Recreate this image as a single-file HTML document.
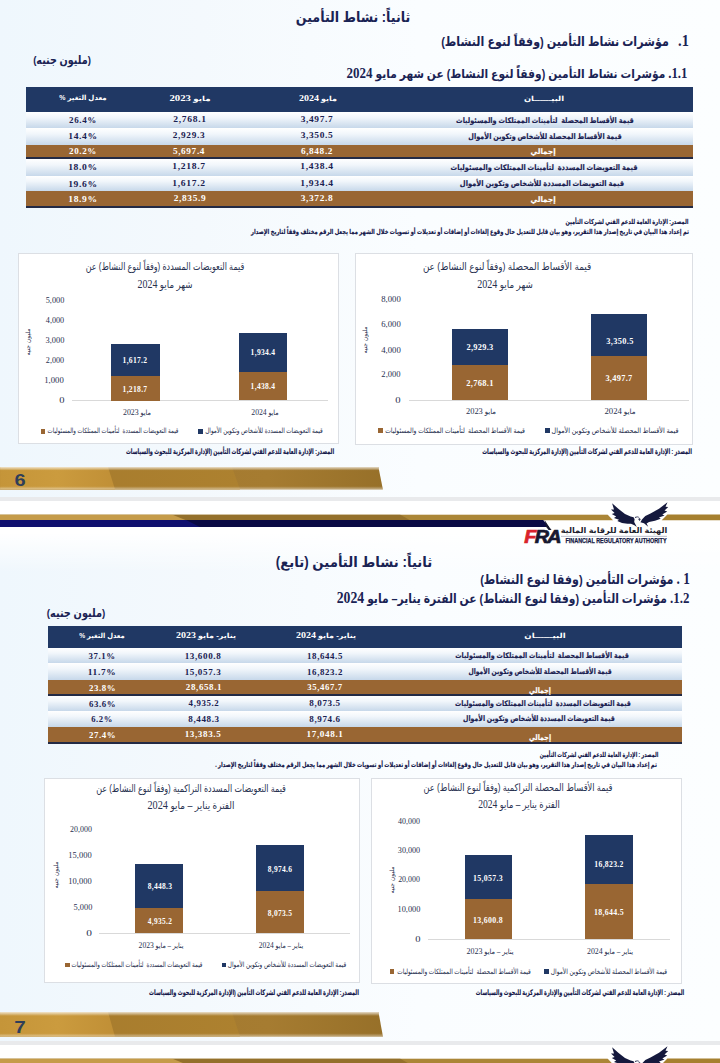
<!DOCTYPE html><html lang="ar"><head><meta charset="utf-8"><title>نشاط التأمين</title><style>
html,body{margin:0;padding:0;width:720px;height:1063px;overflow:hidden;background:#fafdff}
.pg{width:720px;height:1063px;position:relative;overflow:hidden;
 background:linear-gradient(90deg,#eff7fd 0%,#f4f9fd 28%,#fafdff 58%,#fcfeff 100%);
 font-family:"Liberation Sans","DejaVu Sans",sans-serif}
.r{position:absolute;display:block}
.t{position:absolute;white-space:nowrap;line-height:1;color:#1a2354;direction:rtl;unicode-bidi:isolate}
.sb{font-family:"Liberation Sans","DejaVu Sans",sans-serif;font-weight:bold}
.sr{font-family:"Liberation Sans","DejaVu Sans",sans-serif;font-weight:normal}
.lb{font-family:"Liberation Sans","DejaVu Sans",sans-serif;font-weight:bold;direction:ltr}
.nb{font-family:"Liberation Serif","DejaVu Serif",serif;font-weight:bold;direction:ltr}
.nr{font-family:"Liberation Serif","DejaVu Serif",serif;font-weight:normal;direction:ltr}
.n{font-family:"Liberation Serif","DejaVu Serif",serif}
</style></head><body><div class="pg">
<div class="r" style="left:26.00px;top:87.00px;width:667.00px;height:24.70px;background:#203864;"></div>
<div class="r" style="left:26.00px;top:111.70px;width:667.00px;height:16.30px;background:linear-gradient(#ffffff 0%,#f1f6fb 35%,#c7d8ea 100%);"></div>
<div class="r" style="left:26.00px;top:128.00px;width:667.00px;height:16.60px;background:linear-gradient(#ffffff 0%,#f1f6fb 35%,#c7d8ea 100%);"></div>
<div class="r" style="left:26.00px;top:144.60px;width:667.00px;height:12.40px;background:#996633;"></div>
<div class="r" style="left:26.00px;top:156.70px;width:667.00px;height:2.40px;background:#232a45;"></div>
<div class="r" style="left:26.00px;top:158.80px;width:667.00px;height:16.90px;background:linear-gradient(#ffffff 0%,#f1f6fb 35%,#c7d8ea 100%);"></div>
<div class="r" style="left:26.00px;top:175.70px;width:667.00px;height:15.70px;background:linear-gradient(#ffffff 0%,#f1f6fb 35%,#c7d8ea 100%);"></div>
<div class="r" style="left:26.00px;top:191.40px;width:667.00px;height:15.20px;background:#996633;"></div>
<div class="r" style="left:26.00px;top:206.30px;width:667.00px;height:1.90px;background:#232a45;"></div>
<div class="r" style="left:48.00px;top:625.75px;width:634.00px;height:21.85px;background:#203864;"></div>
<div class="r" style="left:48.00px;top:647.60px;width:634.00px;height:15.40px;background:linear-gradient(#ffffff 0%,#f1f6fb 35%,#c7d8ea 100%);"></div>
<div class="r" style="left:48.00px;top:663.00px;width:634.00px;height:16.70px;background:linear-gradient(#ffffff 0%,#f1f6fb 35%,#c7d8ea 100%);"></div>
<div class="r" style="left:48.00px;top:679.70px;width:634.00px;height:14.50px;background:#996633;"></div>
<div class="r" style="left:48.00px;top:693.90px;width:634.00px;height:2.40px;background:#232a45;"></div>
<div class="r" style="left:48.00px;top:696.00px;width:634.00px;height:14.80px;background:linear-gradient(#ffffff 0%,#f1f6fb 35%,#c7d8ea 100%);"></div>
<div class="r" style="left:48.00px;top:710.80px;width:634.00px;height:16.20px;background:linear-gradient(#ffffff 0%,#f1f6fb 35%,#c7d8ea 100%);"></div>
<div class="r" style="left:48.00px;top:727.00px;width:634.00px;height:14.80px;background:#996633;"></div>
<div class="r" style="left:48.00px;top:741.50px;width:634.00px;height:2.10px;background:#232a45;"></div>
<div class="r" style="left:18.30px;top:253.30px;width:320.70px;height:191.20px;background:#fff;border:1px solid #dcdfe4;box-sizing:border-box"></div>
<div class="t sr" dir="rtl" style="left:27.80px;top:342.00px;font-size:6.1px;color:#283150;transform:translate(-50%,-50%) rotate(-90deg) scaleX(1.000)">مليون جنيه</div>
<div class="r" style="left:72.00px;top:400.10px;width:256.00px;height:0.90px;background:#d9d9d9;"></div>
<div class="r" style="left:110.80px;top:343.50px;width:48.90px;height:32.51px;background:#203864;"></div>
<div class="r" style="left:110.80px;top:376.00px;width:48.90px;height:24.50px;background:#996633;"></div>
<div class="r" style="left:239.20px;top:332.71px;width:48.30px;height:38.88px;background:#203864;"></div>
<div class="r" style="left:239.20px;top:371.59px;width:48.30px;height:28.91px;background:#996633;"></div>
<div class="r" style="left:40.80px;top:429.00px;width:4.50px;height:4.60px;background:#996633;"></div>
<div class="r" style="left:198.00px;top:429.00px;width:4.80px;height:4.60px;background:#203864;"></div>
<div class="r" style="left:355.30px;top:253.30px;width:338.10px;height:191.70px;background:#fff;border:1px solid #dcdfe4;box-sizing:border-box"></div>
<div class="t sr" dir="rtl" style="left:364.60px;top:340.00px;font-size:6.1px;color:#283150;transform:translate(-50%,-50%) rotate(-90deg) scaleX(1.000)">مليون جنيه</div>
<div class="r" style="left:409.00px;top:399.90px;width:280.00px;height:0.90px;background:#d9d9d9;"></div>
<div class="r" style="left:452.00px;top:328.51px;width:55.60px;height:36.91px;background:#203864;"></div>
<div class="r" style="left:452.00px;top:365.42px;width:55.60px;height:34.88px;background:#996633;"></div>
<div class="r" style="left:591.40px;top:314.01px;width:56.10px;height:42.22px;background:#203864;"></div>
<div class="r" style="left:591.40px;top:356.23px;width:56.10px;height:44.07px;background:#996633;"></div>
<div class="r" style="left:377.50px;top:428.30px;width:5.50px;height:4.70px;background:#996633;"></div>
<div class="r" style="left:545.00px;top:428.30px;width:5.00px;height:4.70px;background:#203864;"></div>
<div class="r" style="left:44.40px;top:777.50px;width:316.10px;height:205.70px;background:#fff;border:1px solid #dcdfe4;box-sizing:border-box"></div>
<div class="t sr" dir="rtl" style="left:56.00px;top:875.00px;font-size:6.1px;color:#283150;transform:translate(-50%,-50%) rotate(-90deg) scaleX(1.000)">مليون جنيه</div>
<div class="r" style="left:99.00px;top:932.60px;width:251.00px;height:0.90px;background:#d9d9d9;"></div>
<div class="r" style="left:135.30px;top:863.94px;width:48.00px;height:43.59px;background:#203864;"></div>
<div class="r" style="left:135.30px;top:907.53px;width:48.00px;height:25.47px;background:#996633;"></div>
<div class="r" style="left:256.40px;top:845.03px;width:47.80px;height:46.31px;background:#203864;"></div>
<div class="r" style="left:256.40px;top:891.34px;width:47.80px;height:41.66px;background:#996633;"></div>
<div class="r" style="left:65.30px;top:962.80px;width:4.30px;height:4.70px;background:#996633;"></div>
<div class="r" style="left:221.70px;top:962.80px;width:4.70px;height:4.70px;background:#203864;"></div>
<div class="r" style="left:371.00px;top:777.50px;width:310.70px;height:206.70px;background:#fff;border:1px solid #dcdfe4;box-sizing:border-box"></div>
<div class="t sr" dir="rtl" style="left:392.00px;top:880.00px;font-size:6.1px;color:#283150;transform:translate(-50%,-50%) rotate(-90deg) scaleX(1.000)">مليون جنيه</div>
<div class="r" style="left:428.00px;top:938.50px;width:242.00px;height:0.90px;background:#d9d9d9;"></div>
<div class="r" style="left:464.50px;top:854.65px;width:47.70px;height:44.27px;background:#203864;"></div>
<div class="r" style="left:464.50px;top:898.91px;width:47.70px;height:39.99px;background:#996633;"></div>
<div class="r" style="left:585.30px;top:834.62px;width:47.70px;height:49.46px;background:#203864;"></div>
<div class="r" style="left:585.30px;top:884.09px;width:47.70px;height:54.81px;background:#996633;"></div>
<div class="r" style="left:389.70px;top:969.00px;width:4.50px;height:4.60px;background:#996633;"></div>
<div class="r" style="left:544.40px;top:969.00px;width:4.80px;height:4.60px;background:#203864;"></div>
<svg class="r" style="left:0;top:467.30px" width="390" height="22.40" viewBox="0 0 390 22.40">
<defs>
<linearGradient id="fa6" x1="0" x2="1" y1="0" y2="0"><stop offset="0" stop-color="#c59539"/><stop offset="0.5" stop-color="#cb9b3e"/><stop offset="1" stop-color="#c08f36"/></linearGradient>
<linearGradient id="fb6" x1="0" x2="1" y1="0" y2="0"><stop offset="0" stop-color="#a57a2d"/><stop offset="1" stop-color="#ad812f"/></linearGradient>
<linearGradient id="fc6" x1="0" x2="1" y1="0" y2="0"><stop offset="0" stop-color="#a0762c"/><stop offset="0.7" stop-color="#a67c31"/><stop offset="1" stop-color="#977029"/></linearGradient>
<linearGradient id="fv6" x1="0" x2="0" y1="0" y2="1"><stop offset="0" stop-color="#fff" stop-opacity="0.75"/><stop offset="0.16" stop-color="#fff" stop-opacity="0"/><stop offset="0.86" stop-color="#fff" stop-opacity="0"/><stop offset="1" stop-color="#fff" stop-opacity="0.45"/></linearGradient>
</defs>
<polygon points="0,0 378.5,0 383,22.40 0,22.40" fill="url(#fc6)"/>
<polygon points="0,0 232,0 240,22.40 0,22.40" fill="url(#fb6)"/>
<polygon points="0,0 108,0 115,22.40 0,22.40" fill="url(#fa6)"/>
<polygon points="0,0 378.5,0 383,22.40 0,22.40" fill="url(#fv6)"/>
</svg>
<svg class="r" style="left:0;top:1012.40px" width="390" height="24.80" viewBox="0 0 390 24.80">
<defs>
<linearGradient id="fa7" x1="0" x2="1" y1="0" y2="0"><stop offset="0" stop-color="#c59539"/><stop offset="0.5" stop-color="#cb9b3e"/><stop offset="1" stop-color="#c08f36"/></linearGradient>
<linearGradient id="fb7" x1="0" x2="1" y1="0" y2="0"><stop offset="0" stop-color="#a57a2d"/><stop offset="1" stop-color="#ad812f"/></linearGradient>
<linearGradient id="fc7" x1="0" x2="1" y1="0" y2="0"><stop offset="0" stop-color="#a0762c"/><stop offset="0.7" stop-color="#a67c31"/><stop offset="1" stop-color="#977029"/></linearGradient>
<linearGradient id="fv7" x1="0" x2="0" y1="0" y2="1"><stop offset="0" stop-color="#fff" stop-opacity="0.75"/><stop offset="0.16" stop-color="#fff" stop-opacity="0"/><stop offset="0.86" stop-color="#fff" stop-opacity="0"/><stop offset="1" stop-color="#fff" stop-opacity="0.45"/></linearGradient>
</defs>
<polygon points="0,0 378.5,0 383,24.80 0,24.80" fill="url(#fc7)"/>
<polygon points="0,0 232,0 240,24.80 0,24.80" fill="url(#fb7)"/>
<polygon points="0,0 108,0 115,24.80 0,24.80" fill="url(#fa7)"/>
<polygon points="0,0 378.5,0 383,24.80 0,24.80" fill="url(#fv7)"/>
</svg>
<div class="r" style="left:0.00px;top:497.30px;width:720.00px;height:3.40px;background:#e9eaec;"></div>
<div class="r" style="left:0.00px;top:500.70px;width:720.00px;height:71.60px;background:linear-gradient(#ffffff 0%,#ffffff 45%,rgba(255,255,255,0) 100%);"></div>
<svg class="r" style="left:0;top:497.30px" width="720" height="50" viewBox="0 497.3 720 50">
<polygon points="0,514.8 607.5,514.8 613,520.6 0,520.6" fill="#ab8637"/>
<polygon points="0,514.8 400,514.8 410,520.6 0,520.6" fill="#94702b"/>
<polygon points="0,514.8 172,514.8 186,520.6 0,520.6" fill="#c59b49"/>
<rect x="0" y="514.3" width="720" height="0.9" fill="#fff" opacity="0.45"/>
<polygon points="667.4,514.8 720,514.8 720,520.6 661.7,520.6" fill="#a6802f"/>
<polygon points="0,520.4 543.2,520.4 549,527.3 0,527.3" fill="#0a0a44"/>
<polygon points="0,520.4 186,520.4 200,527.3 0,527.3" fill="#10106f"/>
<!-- eagle -->
<g fill="#15193d">
<path d="M612.1,503.5 L618.6,509.3 L625,514.4 L630.6,516.8 L633.6,517.6 L634.6,519.6 L634.2,522.4 L636.8,527.2 L634.4,525.6 L631,524 L627.5,524 L622,523.4 L617.3,521.2 L619,520 L614,518.2 L616.2,516.8 L611.8,514.4 L614.6,513.4 L611,509.9 L614,509.8 Z"/>
<path d="M667.5,502.5 L659,509 L650.5,513.8 L645.3,516.3 L642.2,519.6 L640.4,522.6 L644,523.6 L648.2,527 L646.6,523.7 L649,522.2 L655,521 L660.7,519 L659,517.7 L664.5,515.8 L662.3,514.7 L667.2,511.7 L664.5,510.9 L668.2,507.3 L665.5,507.1 Z"/>
<path d="M634.8,517.4 C636.4,516.5 638.4,516.6 639.6,517.6 L638.2,517.8 C637.2,517.5 636.2,517.6 635.4,518.2 Z M639,518.3 L641.4,519.8 L639.6,519.9 L640.3,521.4 L638.4,520 Z"/>
</g>
<!-- stripe end wedge joining the logo -->
<polygon points="544.6,520.4 549.2,527.3 551.6,530.4 548.6,530.4 546.2,527.3" fill="#17182f"/>
<rect x="561" y="536.2" width="106" height="0.6" fill="#8a8fa8"/>
</svg>
<div class="r" style="left:0.00px;top:1041.30px;width:720.00px;height:3.40px;background:#e9eaec;"></div>
<div class="r" style="left:0.00px;top:1044.70px;width:720.00px;height:71.60px;background:linear-gradient(#ffffff 0%,#ffffff 45%,rgba(255,255,255,0) 100%);"></div>
<svg class="r" style="left:0;top:1041.30px" width="720" height="50" viewBox="0 497.3 720 50">
<polygon points="0,514.8 607.5,514.8 613,520.6 0,520.6" fill="#ab8637"/>
<polygon points="0,514.8 400,514.8 410,520.6 0,520.6" fill="#94702b"/>
<polygon points="0,514.8 172,514.8 186,520.6 0,520.6" fill="#c59b49"/>
<rect x="0" y="514.3" width="720" height="0.9" fill="#fff" opacity="0.45"/>
<polygon points="667.4,514.8 720,514.8 720,520.6 661.7,520.6" fill="#a6802f"/>
<polygon points="0,520.4 543.2,520.4 549,527.3 0,527.3" fill="#0a0a44"/>
<polygon points="0,520.4 186,520.4 200,527.3 0,527.3" fill="#10106f"/>
<!-- eagle -->
<g fill="#15193d">
<path d="M612.1,503.5 L618.6,509.3 L625,514.4 L630.6,516.8 L633.6,517.6 L634.6,519.6 L634.2,522.4 L636.8,527.2 L634.4,525.6 L631,524 L627.5,524 L622,523.4 L617.3,521.2 L619,520 L614,518.2 L616.2,516.8 L611.8,514.4 L614.6,513.4 L611,509.9 L614,509.8 Z"/>
<path d="M667.5,502.5 L659,509 L650.5,513.8 L645.3,516.3 L642.2,519.6 L640.4,522.6 L644,523.6 L648.2,527 L646.6,523.7 L649,522.2 L655,521 L660.7,519 L659,517.7 L664.5,515.8 L662.3,514.7 L667.2,511.7 L664.5,510.9 L668.2,507.3 L665.5,507.1 Z"/>
<path d="M634.8,517.4 C636.4,516.5 638.4,516.6 639.6,517.6 L638.2,517.8 C637.2,517.5 636.2,517.6 635.4,518.2 Z M639,518.3 L641.4,519.8 L639.6,519.9 L640.3,521.4 L638.4,520 Z"/>
</g>
<!-- stripe end wedge joining the logo -->
<polygon points="544.6,520.4 549.2,527.3 551.6,530.4 548.6,530.4 546.2,527.3" fill="#17182f"/>
<rect x="561" y="536.2" width="106" height="0.6" fill="#8a8fa8"/>
</svg>
<div class="t sb" style="left:353.02px;top:17.14px;font-size:14.00px;transform:translate(-50%,-50%) scaleX(0.9053)">ثانياً: نشاط التأمين</div>
<div class="t sb" style="left:565.15px;top:40.50px;font-size:13.20px;transform:translate(-50%,-50%) scaleX(0.8415)"><span class="n"><b style="font-size:1.3em">1.</b></span>&nbsp;&nbsp; مؤشرات نشاط التأمين (وفقاً لنوع النشاط)</div>
<div class="t sb" style="left:62.10px;top:60.90px;font-size:11.50px;transform:translate(-50%,-50%) scaleX(0.8357)">(مليون جنيه)</div>
<div class="t sb" style="left:516.53px;top:73.17px;font-size:12.00px;transform:translate(-50%,-50%) scaleX(0.8879)"><span class="n"><b style="font-size:1.2em">1.1.</b></span> مؤشرات نشاط التأمين (وفقاً لنوع النشاط) عن شهر مايو <span class="n"><b style="font-size:1.22em;letter-spacing:0.5px">2024</b></span></div>
<div class="t sb" style="left:82.74px;top:97.35px;font-size:7.00px;color:#ffffff;transform:translate(-50%,-50%) scaleX(0.9942)">معدل التغير %</div>
<div class="t sb" style="left:190.00px;top:98.35px;font-size:7.00px;color:#ffffff;transform:translate(-50%,-50%) scaleX(1.2308)">مايو <span class="n"><span style="font-size:1.25em">2023</span></span></div>
<div class="t sb" style="left:317.63px;top:98.20px;font-size:7.00px;color:#ffffff;transform:translate(-50%,-50%) scaleX(1.1394)">مايو <span class="n"><span style="font-size:1.25em">2024</span></span></div>
<div class="t sb" style="left:544.12px;top:98.35px;font-size:7.00px;color:#ffffff;transform:translate(-50%,-50%) scaleX(1.1906)">البيــــــان</div>
<div class="t nb" style="left:82.81px;top:120.20px;font-size:8.80px;color:#1a2050;letter-spacing:0.6px;transform:translate(-50%,-50%) scaleX(1.0235)">26.4%</div>
<div class="t nb" style="left:190.26px;top:118.70px;font-size:8.80px;color:#1a2050;letter-spacing:0.6px;transform:translate(-50%,-50%) scaleX(1.0880)">2,768.1</div>
<div class="t nb" style="left:317.42px;top:118.94px;font-size:8.80px;color:#1a2050;letter-spacing:0.6px;transform:translate(-50%,-50%) scaleX(1.0638)">3,497.7</div>
<div class="t sb" style="left:544.61px;top:120.97px;font-size:7.70px;color:#1a2050;-webkit-text-stroke:0.15px currentColor;transform:translate(-50%,-50%) scaleX(0.8460)">قيمة الأقساط المحصلة &nbsp;لتأمينات الممتلكات والمسئوليات</div>
<div class="t nb" style="left:82.53px;top:135.87px;font-size:8.80px;color:#1a2050;letter-spacing:0.6px;transform:translate(-50%,-50%) scaleX(1.0883)">14.4%</div>
<div class="t nb" style="left:189.38px;top:134.89px;font-size:8.80px;color:#1a2050;letter-spacing:0.6px;transform:translate(-50%,-50%) scaleX(1.0570)">2,929.3</div>
<div class="t nb" style="left:317.43px;top:135.47px;font-size:8.80px;color:#1a2050;letter-spacing:0.6px;transform:translate(-50%,-50%) scaleX(1.0704)">3,350.5</div>
<div class="t sb" style="left:545.25px;top:136.78px;font-size:7.70px;color:#1a2050;-webkit-text-stroke:0.15px currentColor;transform:translate(-50%,-50%) scaleX(0.8449)">قيمة الأقساط المحصلة للأشخاص وتكوين الأموال</div>
<div class="t nb" style="left:82.69px;top:150.80px;font-size:8.80px;color:#ffffff;letter-spacing:0.6px;transform:translate(-50%,-50%) scaleX(1.0245)">20.2%</div>
<div class="t nb" style="left:189.46px;top:150.95px;font-size:8.80px;color:#ffffff;letter-spacing:0.6px;transform:translate(-50%,-50%) scaleX(1.0508)">5,697.4</div>
<div class="t nb" style="left:317.46px;top:151.07px;font-size:8.80px;color:#ffffff;letter-spacing:0.6px;transform:translate(-50%,-50%) scaleX(1.0508)">6,848.2</div>
<div class="t sb" style="left:543.22px;top:151.60px;font-size:7.70px;color:#ffffff;-webkit-text-stroke:0.15px currentColor;transform:translate(-50%,-50%) scaleX(0.9380)">إجمالي</div>
<div class="t nb" style="left:82.76px;top:166.74px;font-size:8.80px;color:#1a2050;letter-spacing:0.6px;transform:translate(-50%,-50%) scaleX(1.0899)">18.0%</div>
<div class="t nb" style="left:188.84px;top:166.16px;font-size:8.80px;color:#1a2050;letter-spacing:0.6px;transform:translate(-50%,-50%) scaleX(1.0902)">1,218.7</div>
<div class="t nb" style="left:316.93px;top:166.39px;font-size:8.80px;color:#1a2050;letter-spacing:0.6px;transform:translate(-50%,-50%) scaleX(1.0895)">1,438.4</div>
<div class="t sb" style="left:544.13px;top:168.11px;font-size:7.70px;color:#1a2050;-webkit-text-stroke:0.15px currentColor;transform:translate(-50%,-50%) scaleX(0.8629)">قيمة التعويضات المسددة &nbsp;لتأمينات الممتلكات والمسئوليات</div>
<div class="t nb" style="left:82.76px;top:183.52px;font-size:8.80px;color:#1a2050;letter-spacing:0.6px;transform:translate(-50%,-50%) scaleX(1.0899)">19.6%</div>
<div class="t nb" style="left:189.05px;top:183.23px;font-size:8.80px;color:#1a2050;letter-spacing:0.6px;transform:translate(-50%,-50%) scaleX(1.0916)">1,617.2</div>
<div class="t nb" style="left:316.93px;top:183.27px;font-size:8.80px;color:#1a2050;letter-spacing:0.6px;transform:translate(-50%,-50%) scaleX(1.0895)">1,934.4</div>
<div class="t sb" style="left:541.75px;top:184.15px;font-size:7.70px;color:#1a2050;-webkit-text-stroke:0.15px currentColor;transform:translate(-50%,-50%) scaleX(0.8743)">قيمة التعويضات المسددة للأشخاص وتكوين الأموال</div>
<div class="t nb" style="left:82.53px;top:198.50px;font-size:8.80px;color:#ffffff;letter-spacing:0.6px;transform:translate(-50%,-50%) scaleX(1.0883)">18.9%</div>
<div class="t nb" style="left:189.96px;top:198.15px;font-size:8.80px;color:#ffffff;letter-spacing:0.6px;transform:translate(-50%,-50%) scaleX(1.0651)">2,835.9</div>
<div class="t nb" style="left:317.20px;top:198.30px;font-size:8.80px;color:#ffffff;letter-spacing:0.6px;transform:translate(-50%,-50%) scaleX(1.0665)">3,372.8</div>
<div class="t sb" style="left:543.22px;top:199.72px;font-size:7.70px;color:#ffffff;-webkit-text-stroke:0.15px currentColor;transform:translate(-50%,-50%) scaleX(0.9380)">إجمالي</div>
<div class="t sb" style="left:627.23px;top:222.38px;font-size:6.90px;color:#14174a;-webkit-text-stroke:0.15px #14174a;transform:translate(-50%,-50%) scaleX(0.7259)">المصدر: الإدارة العامة للدعم الفني لشركات التأمين</div>
<div class="t sb" style="left:469.69px;top:231.62px;font-size:6.90px;color:#14174a;-webkit-text-stroke:0.15px #14174a;transform:translate(-50%,-50%) scaleX(0.7465)">تم إعداد هذا البيان في تاريخ إصدار هذا التقرير، وهو بيان قابل للتعديل حال وقوع إلغاءات أو إضافات أو تعديلات أو تسويات خلال الشهر مما يجعل الرقم مختلف وفقاً لتاريخ الإصدار</div>
<div class="t sb" style="left:102.30px;top:635.03px;font-size:7.00px;color:#ffffff;transform:translate(-50%,-50%) scaleX(0.9550)">معدل التغير %</div>
<div class="t sb" style="left:205.62px;top:634.99px;font-size:7.00px;color:#ffffff;transform:translate(-50%,-50%) scaleX(1.1332)">يناير- مايو <span class="n"><span style="font-size:1.25em">2023</span></span></div>
<div class="t sb" style="left:325.62px;top:635.16px;font-size:7.00px;color:#ffffff;transform:translate(-50%,-50%) scaleX(1.1332)">يناير- مايو <span class="n"><span style="font-size:1.25em">2024</span></span></div>
<div class="t sb" style="left:545.11px;top:634.99px;font-size:7.00px;color:#ffffff;transform:translate(-50%,-50%) scaleX(1.2243)">البيــــــان</div>
<div class="t nb" style="left:102.21px;top:656.18px;font-size:8.80px;color:#1a2050;letter-spacing:0.6px;transform:translate(-50%,-50%) scaleX(0.9998)">37.1%</div>
<div class="t nb" style="left:202.85px;top:656.11px;font-size:8.80px;color:#1a2050;letter-spacing:0.6px;transform:translate(-50%,-50%) scaleX(1.0317)">13,600.8</div>
<div class="t nb" style="left:324.80px;top:656.17px;font-size:8.80px;color:#1a2050;letter-spacing:0.6px;transform:translate(-50%,-50%) scaleX(1.0088)">18,644.5</div>
<div class="t sb" style="left:542.21px;top:656.38px;font-size:7.70px;color:#1a2050;-webkit-text-stroke:0.15px currentColor;transform:translate(-50%,-50%) scaleX(0.8266)">قيمة الأقساط المحصلة &nbsp;لتأمينات الممتلكات والمسئوليات</div>
<div class="t nb" style="left:102.48px;top:672.34px;font-size:8.80px;color:#1a2050;letter-spacing:0.6px;transform:translate(-50%,-50%) scaleX(1.0673)">11.7%</div>
<div class="t nb" style="left:202.84px;top:671.95px;font-size:8.80px;color:#1a2050;letter-spacing:0.6px;transform:translate(-50%,-50%) scaleX(1.0309)">15,057.3</div>
<div class="t nb" style="left:324.80px;top:672.08px;font-size:8.80px;color:#1a2050;letter-spacing:0.6px;transform:translate(-50%,-50%) scaleX(1.0088)">16,823.2</div>
<div class="t sb" style="left:540.25px;top:671.83px;font-size:7.70px;color:#1a2050;-webkit-text-stroke:0.15px currentColor;transform:translate(-50%,-50%) scaleX(0.7895)">قيمة الأقساط المحصلة للأشخاص وتكوين الأموال</div>
<div class="t nb" style="left:102.50px;top:688.00px;font-size:8.80px;color:#ffffff;letter-spacing:0.6px;transform:translate(-50%,-50%) scaleX(1.0000)">23.8%</div>
<div class="t nb" style="left:204.11px;top:686.93px;font-size:8.80px;color:#ffffff;letter-spacing:0.6px;transform:translate(-50%,-50%) scaleX(1.0214)">28,658.1</div>
<div class="t nb" style="left:325.05px;top:687.44px;font-size:8.80px;color:#ffffff;letter-spacing:0.6px;transform:translate(-50%,-50%) scaleX(0.9967)">35,467.7</div>
<div class="t sb" style="left:539.93px;top:691.34px;font-size:7.70px;color:#ffffff;-webkit-text-stroke:0.15px currentColor;transform:translate(-50%,-50%) scaleX(0.8215)">إجمالي</div>
<div class="t nb" style="left:102.50px;top:703.80px;font-size:8.80px;color:#1a2050;letter-spacing:0.6px;transform:translate(-50%,-50%) scaleX(1.0000)">63.6%</div>
<div class="t nb" style="left:203.73px;top:702.70px;font-size:8.80px;color:#1a2050;letter-spacing:0.6px;transform:translate(-50%,-50%) scaleX(1.0066)">4,935.2</div>
<div class="t nb" style="left:324.98px;top:702.82px;font-size:8.80px;color:#1a2050;letter-spacing:0.6px;transform:translate(-50%,-50%) scaleX(1.0309)">8,073.5</div>
<div class="t sb" style="left:542.60px;top:704.12px;font-size:7.70px;color:#1a2050;-webkit-text-stroke:0.15px currentColor;transform:translate(-50%,-50%) scaleX(0.8111)">قيمة التعويضات المسددة &nbsp;لتأمينات الممتلكات والمسئوليات</div>
<div class="t nb" style="left:102.38px;top:718.96px;font-size:8.80px;color:#1a2050;letter-spacing:0.6px;transform:translate(-50%,-50%) scaleX(0.9784)">6.2%</div>
<div class="t nb" style="left:203.84px;top:718.71px;font-size:8.80px;color:#1a2050;letter-spacing:0.6px;transform:translate(-50%,-50%) scaleX(1.0272)">8,448.3</div>
<div class="t nb" style="left:324.95px;top:718.62px;font-size:8.80px;color:#1a2050;letter-spacing:0.6px;transform:translate(-50%,-50%) scaleX(1.0285)">8,974.6</div>
<div class="t sb" style="left:539.07px;top:718.81px;font-size:7.70px;color:#1a2050;-webkit-text-stroke:0.15px currentColor;transform:translate(-50%,-50%) scaleX(0.8071)">قيمة التعويضات المسددة للأشخاص وتكوين الأموال</div>
<div class="t nb" style="left:102.50px;top:735.10px;font-size:8.80px;color:#ffffff;letter-spacing:0.6px;transform:translate(-50%,-50%) scaleX(1.0000)">27.4%</div>
<div class="t nb" style="left:202.98px;top:733.70px;font-size:8.80px;color:#ffffff;letter-spacing:0.6px;transform:translate(-50%,-50%) scaleX(1.0318)">13,383.5</div>
<div class="t nb" style="left:324.66px;top:734.37px;font-size:8.80px;color:#ffffff;letter-spacing:0.6px;transform:translate(-50%,-50%) scaleX(1.0401)">17,048.1</div>
<div class="t sb" style="left:539.70px;top:738.05px;font-size:7.70px;color:#ffffff;-webkit-text-stroke:0.15px currentColor;transform:translate(-50%,-50%) scaleX(0.8231)">إجمالي</div>
<div class="t sb" style="left:598.90px;top:755.47px;font-size:6.90px;color:#14174a;-webkit-text-stroke:0.15px #14174a;transform:translate(-50%,-50%) scaleX(0.6916)">المصدر : الإدارة العامة للدعم الفني لشركات التأمين</div>
<div class="t sb" style="left:436.20px;top:764.64px;font-size:6.90px;color:#14174a;-webkit-text-stroke:0.15px #14174a;transform:translate(-50%,-50%) scaleX(0.7482)">تم إعداد هذا البيان في تاريخ إصدار هذا التقرير، وهو بيان قابل للتعديل حال وقوع إلغاءات أو إضافات أو تعديلات أو تسويات خلال الشهر مما يجعل الرقم مختلف وفقاً لتاريخ الإصدار .</div>
<div class="t sb" style="left:353.56px;top:561.94px;font-size:14.00px;transform:translate(-50%,-50%) scaleX(0.9483)">ثانياً: نشاط التأمين (تابع)</div>
<div class="t sb" style="left:585.08px;top:578.86px;font-size:13.40px;transform:translate(-50%,-50%) scaleX(0.8283)"><span class="n"><b style="font-size:1.2em">1 .</b></span> مؤشرات التأمين (وفقا لنوع النشاط)</div>
<div class="t sb" style="left:513.36px;top:597.64px;font-size:13.00px;transform:translate(-50%,-50%) scaleX(0.8270)"><span class="n"><b style="font-size:1.2em">1.2.</b></span> مؤشرات التأمين (وفقا لنوع النشاط) عن الفترة يناير– مايو <span class="n"><b style="font-size:1.28em;letter-spacing:1.4px">2024</b></span></div>
<div class="t sb" style="left:76.32px;top:613.72px;font-size:11.50px;transform:translate(-50%,-50%) scaleX(0.8466)">(مليون جنيه)</div>
<div class="t sr" style="left:164.53px;top:267.31px;font-size:10.20px;color:#283150;transform:translate(-50%,-50%) scaleX(0.7812)">قيمة التعويضات المسددة (وفقاً لنوع النشاط) عن</div>
<div class="t sr" style="left:164.97px;top:284.96px;font-size:10.20px;color:#283150;transform:translate(-50%,-50%) scaleX(0.8493)">شهر مايو <span class="n" style="font-size:1.15em">2024</span></div>
<div class="t nr" style="left:55.32px;top:301.04px;font-size:7.79px;color:#283150;transform:translate(-50%,-50%) scaleX(1.0636)">5,000</div>
<div class="t nr" style="left:55.37px;top:320.83px;font-size:7.79px;color:#283150;transform:translate(-50%,-50%) scaleX(1.0453)">4,000</div>
<div class="t nr" style="left:55.15px;top:340.76px;font-size:7.79px;color:#283150;transform:translate(-50%,-50%) scaleX(1.0748)">3,000</div>
<div class="t nr" style="left:55.16px;top:360.67px;font-size:7.79px;color:#283150;transform:translate(-50%,-50%) scaleX(1.0443)">2,000</div>
<div class="t nr" style="left:54.38px;top:380.95px;font-size:7.79px;color:#283150;transform:translate(-50%,-50%) scaleX(1.1163)">1,000</div>
<div class="t nr" style="left:61.82px;top:401.03px;font-size:7.79px;color:#283150;transform:translate(-50%,-50%) scaleX(1.3520)">0</div>
<div class="t nb" style="left:134.84px;top:360.98px;font-size:7.40px;color:#ffffff;letter-spacing:0.3px;transform:translate(-50%,-50%) scaleX(1.0215)">1,617.2</div>
<div class="t nb" style="left:134.95px;top:389.96px;font-size:7.40px;color:#ffffff;letter-spacing:0.3px;transform:translate(-50%,-50%) scaleX(1.0273)">1,218.7</div>
<div class="t nb" style="left:262.72px;top:353.15px;font-size:7.40px;color:#ffffff;letter-spacing:0.3px;transform:translate(-50%,-50%) scaleX(1.0205)">1,934.4</div>
<div class="t nb" style="left:262.72px;top:387.17px;font-size:7.40px;color:#ffffff;letter-spacing:0.3px;transform:translate(-50%,-50%) scaleX(1.0205)">1,438.4</div>
<div class="t sr" style="left:136.50px;top:411.64px;font-size:7.20px;color:#283150;transform:translate(-50%,-50%) scaleX(0.8959)">مايو <span class="n" style="font-size:1.22em">2023</span></div>
<div class="t sr" style="left:264.56px;top:411.80px;font-size:7.20px;color:#283150;transform:translate(-50%,-50%) scaleX(0.8724)">مايو <span class="n" style="font-size:1.22em">2024</span></div>
<div class="t sr" style="left:113.27px;top:431.02px;font-size:7.20px;color:#20294a;transform:translate(-50%,-50%) scaleX(0.7563)">قيمة التعويضات المسددة &nbsp;لتأمينات الممتلكات والمسئوليات</div>
<div class="t sr" style="left:264.19px;top:430.55px;font-size:7.20px;color:#20294a;transform:translate(-50%,-50%) scaleX(0.7869)">قيمة التعويضات المسددة للأشخاص وتكوين الأموال</div>
<div class="t sb" style="left:230.43px;top:451.93px;font-size:7.60px;color:#14174a;-webkit-text-stroke:0.18px #14174a;transform:translate(-50%,-50%) scaleX(0.6465)">المصدر: الإدارة العامة للدعم الفني لشركات التأمين (الإدارة المركزية للبحوث والسياسات</div>
<div class="t sr" style="left:507.27px;top:267.43px;font-size:10.20px;color:#283150;transform:translate(-50%,-50%) scaleX(0.8659)">قيمة الأقساط المحصلة (وفقاً لنوع النشاط) عن</div>
<div class="t sr" style="left:505.36px;top:284.82px;font-size:10.20px;color:#283150;transform:translate(-50%,-50%) scaleX(0.8617)">شهر مايو <span class="n" style="font-size:1.15em">2024</span></div>
<div class="t nr" style="left:391.11px;top:300.08px;font-size:8.33px;color:#283150;transform:translate(-50%,-50%) scaleX(1.0416)">8,000</div>
<div class="t nr" style="left:391.16px;top:325.23px;font-size:8.33px;color:#283150;transform:translate(-50%,-50%) scaleX(1.0386)">6,000</div>
<div class="t nr" style="left:390.87px;top:350.50px;font-size:8.33px;color:#283150;transform:translate(-50%,-50%) scaleX(1.0445)">4,000</div>
<div class="t nr" style="left:391.25px;top:375.08px;font-size:8.33px;color:#283150;transform:translate(-50%,-50%) scaleX(1.0278)">2,000</div>
<div class="t nr" style="left:398.36px;top:400.79px;font-size:8.33px;color:#283150;transform:translate(-50%,-50%) scaleX(1.2837)">0</div>
<div class="t nb" style="left:480.45px;top:348.35px;font-size:8.30px;color:#ffffff;letter-spacing:0.3px;transform:translate(-50%,-50%) scaleX(1.0066)">2,929.3</div>
<div class="t nb" style="left:480.48px;top:384.35px;font-size:8.30px;color:#ffffff;letter-spacing:0.3px;transform:translate(-50%,-50%) scaleX(1.0265)">2,768.1</div>
<div class="t nb" style="left:619.77px;top:341.54px;font-size:8.30px;color:#ffffff;letter-spacing:0.3px;transform:translate(-50%,-50%) scaleX(1.0110)">3,350.5</div>
<div class="t nb" style="left:619.31px;top:379.06px;font-size:8.30px;color:#ffffff;letter-spacing:0.3px;transform:translate(-50%,-50%) scaleX(1.0089)">3,497.7</div>
<div class="t sr" style="left:480.95px;top:410.98px;font-size:7.20px;color:#283150;transform:translate(-50%,-50%) scaleX(0.9621)">مايو <span class="n" style="font-size:1.22em">2023</span></div>
<div class="t sr" style="left:620.22px;top:411.25px;font-size:7.20px;color:#283150;transform:translate(-50%,-50%) scaleX(0.9973)">مايو <span class="n" style="font-size:1.22em">2024</span></div>
<div class="t sr" style="left:455.25px;top:430.88px;font-size:7.20px;color:#20294a;transform:translate(-50%,-50%) scaleX(0.8367)">قيمة الأقساط المحصلة &nbsp;لتأمينات الممتلكات والمسئوليات</div>
<div class="t sr" style="left:615.40px;top:430.62px;font-size:7.20px;color:#20294a;transform:translate(-50%,-50%) scaleX(0.8857)">قيمة الأقساط المحصلة للأشخاص وتكوين الأموال</div>
<div class="t sb" style="left:587.31px;top:452.00px;font-size:7.60px;color:#14174a;-webkit-text-stroke:0.18px #14174a;transform:translate(-50%,-50%) scaleX(0.6470)">المصدر : الإدارة العامة للدعم الفني لشركات التأمين (الإدارة المركزية للبحوث والسياسات</div>
<div class="t sr" style="left:191.40px;top:788.92px;font-size:10.20px;color:#283150;transform:translate(-50%,-50%) scaleX(0.7829)">قيمة التعويضات المسددة التراكمية (وفقاً لنوع النشاط) عن</div>
<div class="t sr" style="left:190.88px;top:806.38px;font-size:10.20px;color:#283150;transform:translate(-50%,-50%) scaleX(0.8735)">الفترة يناير – مايو <span class="n" style="font-size:1.15em">2024</span></div>
<div class="t nr" style="left:80.82px;top:829.88px;font-size:7.83px;color:#283150;transform:translate(-50%,-50%) scaleX(1.0161)">20,000</div>
<div class="t nr" style="left:79.84px;top:856.49px;font-size:7.83px;color:#283150;transform:translate(-50%,-50%) scaleX(1.0830)">15,000</div>
<div class="t nr" style="left:79.84px;top:881.91px;font-size:7.83px;color:#283150;transform:translate(-50%,-50%) scaleX(1.0830)">10,000</div>
<div class="t nr" style="left:82.90px;top:907.75px;font-size:7.83px;color:#283150;transform:translate(-50%,-50%) scaleX(1.0660)">5,000</div>
<div class="t nr" style="left:89.48px;top:933.83px;font-size:7.83px;color:#283150;transform:translate(-50%,-50%) scaleX(1.4581)">0</div>
<div class="t nb" style="left:159.74px;top:886.79px;font-size:7.50px;color:#ffffff;letter-spacing:0.3px;transform:translate(-50%,-50%) scaleX(0.9984)">8,448.3</div>
<div class="t nb" style="left:160.04px;top:921.79px;font-size:7.50px;color:#ffffff;letter-spacing:0.3px;transform:translate(-50%,-50%) scaleX(0.9858)">4,935.2</div>
<div class="t nb" style="left:280.18px;top:869.72px;font-size:7.50px;color:#ffffff;letter-spacing:0.3px;transform:translate(-50%,-50%) scaleX(0.9949)">8,974.6</div>
<div class="t nb" style="left:280.17px;top:913.53px;font-size:7.50px;color:#ffffff;letter-spacing:0.3px;transform:translate(-50%,-50%) scaleX(0.9963)">8,073.5</div>
<div class="t sr" style="left:161.22px;top:944.70px;font-size:7.20px;color:#283150;transform:translate(-50%,-50%) scaleX(0.8692)">يناير – مايو <span class="n" style="font-size:1.22em">2023</span></div>
<div class="t sr" style="left:280.66px;top:944.94px;font-size:7.20px;color:#283150;transform:translate(-50%,-50%) scaleX(0.8608)">يناير – مايو <span class="n" style="font-size:1.22em">2024</span></div>
<div class="t sr" style="left:136.85px;top:965.07px;font-size:7.20px;color:#20294a;transform:translate(-50%,-50%) scaleX(0.7565)">قيمة التعويضات المسددة &nbsp;لتأمينات الممتلكات والمسئوليات</div>
<div class="t sr" style="left:287.42px;top:964.56px;font-size:7.20px;color:#20294a;transform:translate(-50%,-50%) scaleX(0.7923)">قيمة التعويضات المسددة للأشخاص وتكوين الأموال</div>
<div class="t sb" style="left:253.73px;top:993.23px;font-size:7.60px;color:#14174a;-webkit-text-stroke:0.18px #14174a;transform:translate(-50%,-50%) scaleX(0.6515)">المصدر: الإدارة العامة للدعم الفني لشركات التأمين (الإدارة المركزية للبحوث والسياسات</div>
<div class="t sr" style="left:518.17px;top:788.07px;font-size:10.20px;color:#283150;transform:translate(-50%,-50%) scaleX(0.8075)">قيمة الأقساط المحصلة التراكمية (وفقاً لنوع النشاط) عن</div>
<div class="t sr" style="left:519.06px;top:804.78px;font-size:10.20px;color:#283150;transform:translate(-50%,-50%) scaleX(0.8175)">الفترة يناير – مايو <span class="n" style="font-size:1.15em">2024</span></div>
<div class="t nr" style="left:409.33px;top:821.63px;font-size:7.79px;color:#283150;transform:translate(-50%,-50%) scaleX(1.0220)">40,000</div>
<div class="t nr" style="left:409.06px;top:851.17px;font-size:7.79px;color:#283150;transform:translate(-50%,-50%) scaleX(1.0445)">30,000</div>
<div class="t nr" style="left:409.07px;top:879.70px;font-size:7.79px;color:#283150;transform:translate(-50%,-50%) scaleX(1.0120)">20,000</div>
<div class="t nr" style="left:408.57px;top:910.11px;font-size:7.79px;color:#283150;transform:translate(-50%,-50%) scaleX(1.0720)">10,000</div>
<div class="t nr" style="left:417.56px;top:939.71px;font-size:7.79px;color:#283150;transform:translate(-50%,-50%) scaleX(1.3520)">0</div>
<div class="t nb" style="left:488.33px;top:878.75px;font-size:7.80px;color:#ffffff;letter-spacing:0.3px;transform:translate(-50%,-50%) scaleX(1.0039)">15,057.3</div>
<div class="t nb" style="left:488.38px;top:920.50px;font-size:7.80px;color:#ffffff;letter-spacing:0.3px;transform:translate(-50%,-50%) scaleX(1.0058)">13,600.8</div>
<div class="t nb" style="left:609.00px;top:864.70px;font-size:7.80px;color:#ffffff;letter-spacing:0.3px;transform:translate(-50%,-50%) scaleX(0.9865)">16,823.2</div>
<div class="t nb" style="left:608.69px;top:913.25px;font-size:7.80px;color:#ffffff;letter-spacing:0.3px;transform:translate(-50%,-50%) scaleX(1.0050)">18,644.5</div>
<div class="t sr" style="left:489.92px;top:950.75px;font-size:7.20px;color:#283150;transform:translate(-50%,-50%) scaleX(0.9106)">يناير – مايو <span class="n" style="font-size:1.22em">2023</span></div>
<div class="t sr" style="left:610.01px;top:950.83px;font-size:7.20px;color:#283150;transform:translate(-50%,-50%) scaleX(0.8902)">يناير – مايو <span class="n" style="font-size:1.22em">2024</span></div>
<div class="t sr" style="left:463.93px;top:971.71px;font-size:7.20px;color:#20294a;transform:translate(-50%,-50%) scaleX(0.7999)">قيمة الأقساط المحصلة &nbsp;لتأمينات الممتلكات والمسئوليات</div>
<div class="t sr" style="left:609.28px;top:971.67px;font-size:7.20px;color:#20294a;transform:translate(-50%,-50%) scaleX(0.8112)">قيمة الأقساط المحصلة للأشخاص وتكوين الأموال</div>
<div class="t sb" style="left:580.00px;top:992.73px;font-size:7.60px;color:#14174a;-webkit-text-stroke:0.18px #14174a;transform:translate(-50%,-50%) scaleX(0.6390)">المصدر : الإدارة العامة للدعم الفني لشركات التأمين والإدارة المركزية للبحوث والسياسات</div>
<div class="t lb" style="left:20.16px;top:480.21px;font-size:17.00px;color:#2f3e59;transform:translate(-50%,-50%) scaleX(1.1745)">6</div>
<div class="t lb" style="left:20.35px;top:1027.08px;font-size:17.00px;color:#2f3e59;transform:translate(-50%,-50%) scaleX(1.2125)">7</div>
<div class="t lb" style="left:542.23px;top:536.83px;font-size:18.00px;color:#17182f;letter-spacing:-1.6px;font-style:italic;-webkit-text-stroke:0.7px currentColor;transform:translate(-50%,-50%) scaleX(1.0960)"><span style="color:#d9222a">F</span>RA</div>
<div class="t sb" style="left:614.25px;top:531.00px;font-size:7.80px;color:#1c1c2c;transform:translate(-50%,-50%) scaleX(1.0446)">الهيئة العامة للرقابة المالية</div>
<div class="t lb" style="left:615.54px;top:540.61px;font-size:6.70px;color:#151a45;-webkit-text-stroke:0.25px #151a45;transform:translate(-50%,-50%) scaleX(0.8138)">FINANCIAL REGULATORY AUTHORITY</div>
</div></body></html>
